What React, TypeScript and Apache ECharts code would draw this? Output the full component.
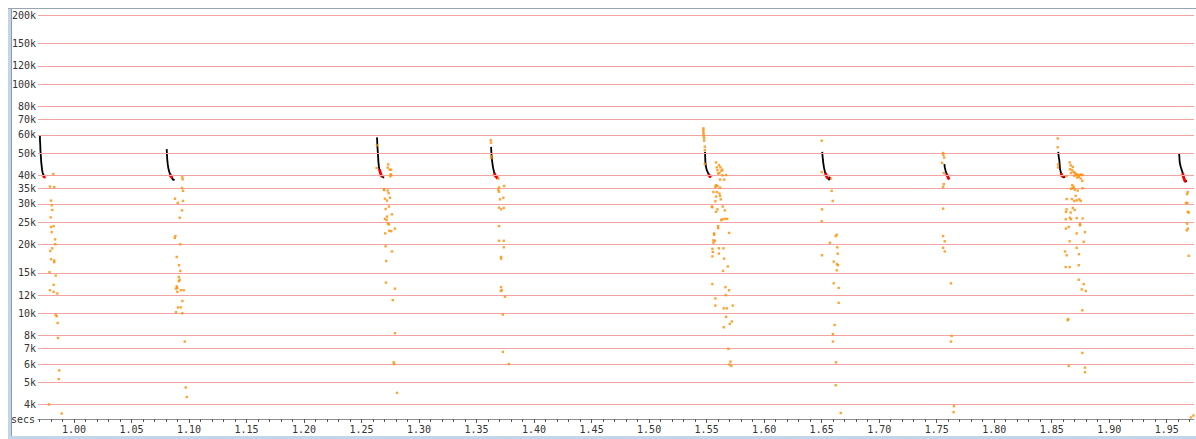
import React, { useEffect, useRef } from 'react';
import * as echarts from 'echarts';

// ---- axes ----
const xMin = 0.9687;
const xMax = 1.9737;
const yMin = 3455;
const yMax = 212600;
const xMajorTicks = [1.0, 1.05, 1.1, 1.15, 1.2, 1.25, 1.3, 1.35, 1.4, 1.45, 1.5, 1.55, 1.6, 1.65, 1.7, 1.75, 1.8, 1.85, 1.9, 1.95];
const yTickValues = [200000, 150000, 120000, 100000, 80000, 70000, 60000, 50000, 40000, 35000, 30000, 25000, 20000, 15000, 12000, 10000, 8000, 7000, 6000, 5000, 4000];
const yTickLabels = ['200k', '150k', '120k', '100k', '80k', '70k', '60k', '50k', '40k', '35k', '30k', '25k', '20k', '15k', '12k', '10k', '8k', '7k', '6k', '5k', '4k'];
const xMinorTicks: number[] = [];
for (let i = 97; i <= 197; i++) xMinorTicks.push(i / 100);

// ---- black decay curves ----
const decay1 = [[0.9704, 60000], [0.9704, 57000], [0.9707, 54000], [0.9708, 51500], [0.971, 50000], [0.9713, 47500], [0.9715, 45600], [0.9719, 43800], [0.9723, 42100], [0.9728, 40900], [0.9733, 40200], [0.9743, 39300]];
const decay2 = [[1.0806, 52000], [1.0807, 50500], [1.0809, 48500], [1.0811, 46600], [1.0815, 44700], [1.082, 43000], [1.0826, 41700], [1.0835, 40500], [1.0848, 39300], [1.0857, 38500], [1.0865, 38100], [1.0872, 38500]];
const decay3 = [[1.2634, 58500], [1.2636, 56300], [1.2637, 54100], [1.264, 51500], [1.2643, 49000], [1.2646, 46000], [1.2651, 43500], [1.2657, 42100], [1.2664, 40900], [1.2673, 39800], [1.2682, 39400], [1.269, 39200], [1.2697, 39100]];
const decay4 = [[1.3626, 53200], [1.3628, 50800], [1.3631, 48500], [1.3634, 46600], [1.3637, 45300], [1.3643, 43200], [1.3652, 41300], [1.366, 40000], [1.3673, 39300], [1.3684, 38700]];
const decay5 = [[1.5486, 50600], [1.5487, 48500], [1.5489, 45800], [1.5493, 43800], [1.5501, 42100], [1.5515, 40700], [1.5525, 39800], [1.5535, 39100]];
const decay6 = [[1.6505, 50600], [1.6507, 49000], [1.651, 47000], [1.6514, 45300], [1.652, 43200], [1.6529, 41300], [1.6544, 39400], [1.6557, 38700], [1.6566, 38100], [1.6572, 39400]];
const decay7 = [[1.7567, 44700], [1.757, 43400], [1.7576, 42100], [1.7584, 40900], [1.7597, 39400], [1.7608, 38400]];
const decay8 = [[1.8557, 50600], [1.856, 48500], [1.8566, 46600], [1.8569, 44700], [1.8572, 42700], [1.8579, 41300], [1.8587, 40000], [1.8601, 39100], [1.8616, 39400]];
const decay9 = [[1.9607, 50000], [1.961, 48000], [1.9612, 45800], [1.962, 43800], [1.9631, 42100], [1.9639, 40900], [1.9645, 39400], [1.9659, 37700], [1.9665, 37500], [1.9674, 38000]];

// ---- red tails ----
const tail1 = [[0.9733, 40100], [0.9737, 39600], [0.9743, 39300], [0.9748, 39200], [0.9753, 39400]];
const tail2 = [[1.0835, 40400], [1.0839, 39800], [1.0848, 39300], [1.0852, 38900]];
const tail3 = [[1.2656, 42500], [1.2657, 42100], [1.2664, 40900], [1.2673, 39800], [1.2682, 39400]];
const tail4 = [[1.3656, 40900], [1.366, 40000], [1.3673, 39300], [1.3684, 38700]];
const tail5 = [[1.5516, 40500], [1.5525, 39800], [1.5535, 39100], [1.5538, 39000]];
const tail6 = [[1.6533, 40900], [1.6544, 39400], [1.6557, 38700]];
const tail7 = [[1.7586, 40600], [1.7597, 39400], [1.7608, 38400]];
const tail8 = [[1.8581, 40900], [1.8587, 40000], [1.8601, 39100], [1.8603, 39000]];
const tail9 = [[1.9639, 40900], [1.9645, 39400], [1.9659, 37700], [1.9665, 37400]];

// ---- orange scattered samples ----
const scatter1 = [[0.982, 40500], [0.9791, 35700], [0.9828, 35500], [0.98, 31000], [0.9806, 29600], [0.9811, 28200], [0.9797, 26200], [0.98, 23800], [0.9823, 24000], [0.9806, 22600], [0.9835, 21000], [0.9837, 20000], [0.9811, 19200], [0.9794, 18700], [0.98, 17200], [0.9828, 17000], [0.9828, 16700], [0.9787, 15100], [0.9841, 14600], [0.9823, 13300], [0.9791, 12600], [0.9823, 12400], [0.9855, 12200], [0.9841, 9830], [0.985, 9700], [0.9858, 9070], [0.9861, 7800], [0.9872, 5630], [0.9867, 5160], [0.9783, 4000], [0.9893, 3650]];
const scatter2 = [[1.0942, 39200], [1.0945, 38400], [1.0939, 35200], [1.0948, 34200], [1.0878, 31600], [1.0902, 30300], [1.0948, 30900], [1.0939, 28100], [1.0919, 26100], [1.0881, 21700], [1.0876, 21300], [1.0924, 20000], [1.0893, 17600], [1.0913, 16200], [1.0924, 15300], [1.0911, 14400], [1.0919, 14000], [1.0911, 13800], [1.0893, 13100], [1.0898, 12900], [1.0887, 12800], [1.0898, 12400], [1.093, 12600], [1.0954, 12600], [1.0942, 11300], [1.0928, 10600], [1.0904, 10600], [1.0887, 10100], [1.0942, 10000], [1.0963, 7520], [1.0971, 4740], [1.098, 4310]];
const scatter3 = [[1.2634, 54000], [1.2631, 43000], [1.2732, 44600], [1.2727, 43200], [1.2744, 42300], [1.2756, 42300], [1.2753, 40400], [1.275, 39600], [1.2758, 40000], [1.2697, 34800], [1.2695, 34500], [1.2727, 34300], [1.2735, 33400], [1.2703, 31600], [1.2721, 31000], [1.2747, 31900], [1.2709, 28500], [1.2738, 29200], [1.2764, 27000], [1.2721, 26400], [1.2703, 25800], [1.2718, 25500], [1.2729, 24600], [1.2738, 24400], [1.279, 23400], [1.2741, 22900], [1.2758, 22800], [1.2706, 22300], [1.2709, 19600], [1.2764, 18600], [1.2714, 16900], [1.2712, 13600], [1.279, 12800], [1.2771, 11400], [1.279, 8180], [1.2779, 6110], [1.2784, 6000], [1.2808, 4490]];
const scatter4 = [[1.3623, 56900], [1.3626, 55500], [1.3628, 48500], [1.3628, 47500], [1.3689, 38700], [1.3695, 35400], [1.3689, 34500], [1.3695, 33900], [1.3739, 35900], [1.3704, 31400], [1.3733, 31900], [1.3695, 28900], [1.3713, 28400], [1.3736, 28800], [1.3695, 24000], [1.3695, 20700], [1.3736, 20700], [1.3736, 19400], [1.3713, 17600], [1.3713, 17300], [1.3713, 13000], [1.3719, 12600], [1.371, 12500], [1.3747, 11800], [1.3728, 9870], [1.3728, 6780], [1.378, 6000]];
const scatter5 = [[1.5472, 64100], [1.5472, 63000], [1.5472, 61700], [1.5473, 60500], [1.5475, 59300], [1.5478, 58000], [1.5478, 56600], [1.5484, 53300], [1.5484, 51500], [1.5484, 44800], [1.5582, 45500], [1.5608, 44300], [1.5588, 43300], [1.562, 43300], [1.5637, 42300], [1.5594, 42100], [1.5628, 41800], [1.56, 40700], [1.5611, 40900], [1.5637, 40000], [1.5669, 40100], [1.5617, 38300], [1.5652, 38300], [1.5582, 36200], [1.5576, 35600], [1.5594, 35900], [1.5617, 35300], [1.5559, 33800], [1.5588, 33800], [1.5611, 33300], [1.5617, 32500], [1.5582, 32300], [1.5623, 31400], [1.5576, 30800], [1.5545, 29200], [1.555, 29000], [1.564, 29200], [1.5594, 28400], [1.5658, 28100], [1.5582, 27700], [1.5637, 25700], [1.5626, 25500], [1.5658, 25800], [1.5678, 25800], [1.56, 24000], [1.56, 23500], [1.5695, 22400], [1.5565, 22300], [1.5565, 22000], [1.5559, 20800], [1.5571, 20700], [1.5559, 20300], [1.555, 19100], [1.5606, 19200], [1.5646, 19200], [1.5554, 18500], [1.5606, 18200], [1.555, 17700], [1.5652, 17300], [1.5684, 16000], [1.5643, 15300], [1.555, 13400], [1.5663, 13000], [1.5695, 12600], [1.5666, 12000], [1.5576, 11600], [1.5727, 10800], [1.5576, 10800], [1.5649, 10500], [1.5675, 10500], [1.5669, 9640], [1.5719, 9200], [1.5701, 8980], [1.5649, 8690], [1.5689, 6990], [1.5707, 6150], [1.5698, 5970], [1.5715, 5890]];
const scatter6 = [[1.65, 56600], [1.65, 41300], [1.6581, 38700], [1.6587, 34200], [1.6596, 30900], [1.6503, 28400], [1.65, 25200], [1.6631, 22000], [1.6622, 21700], [1.6572, 20300], [1.6636, 19400], [1.664, 18200], [1.6503, 17900], [1.6605, 16800], [1.6633, 16400], [1.6642, 16200], [1.6631, 15400], [1.6605, 13500], [1.6648, 12900], [1.6648, 11100], [1.6613, 8890], [1.6598, 8100], [1.6598, 7520], [1.6624, 6110], [1.6622, 4850], [1.6666, 3670]];
const scatter7 = [[1.7556, 50000], [1.7558, 49100], [1.7565, 47800], [1.7547, 45300], [1.7562, 40900], [1.7562, 36600], [1.7556, 35600], [1.7556, 28600], [1.7556, 21700], [1.757, 20600], [1.7556, 19300], [1.757, 18600], [1.7624, 13500], [1.763, 7960], [1.7624, 7520], [1.765, 3930], [1.7647, 3700]];
const scatter8 = [[1.8552, 57900], [1.8552, 53000], [1.8555, 44600], [1.8555, 43300], [1.8656, 45500], [1.8665, 44200], [1.8683, 43500], [1.8659, 42500], [1.8676, 42100], [1.8691, 41400], [1.8668, 40900], [1.8702, 40900], [1.8711, 40400], [1.8722, 40300], [1.874, 40000], [1.8754, 40300], [1.8769, 40100], [1.8696, 39800], [1.872, 39100], [1.8735, 39300], [1.8752, 38700], [1.8766, 37800], [1.8627, 39600], [1.8679, 36200], [1.8691, 35600], [1.8668, 34900], [1.8702, 34600], [1.8726, 34300], [1.8769, 35100], [1.8683, 35100], [1.8709, 32500], [1.863, 31500], [1.8676, 31500], [1.8696, 30900], [1.8717, 31100], [1.874, 31400], [1.8752, 30900], [1.8683, 28800], [1.87, 28200], [1.863, 28400], [1.8624, 27700], [1.8665, 27500], [1.8622, 25700], [1.8659, 26100], [1.8717, 26000], [1.8769, 25900], [1.8668, 25700], [1.8746, 24500], [1.8746, 24200], [1.8624, 23400], [1.8648, 23800], [1.8789, 22600], [1.8717, 22300], [1.8656, 20600], [1.8778, 20500], [1.8717, 19300], [1.8616, 18600], [1.863, 17900], [1.8737, 18100], [1.8622, 15900], [1.8656, 15900], [1.8735, 16200], [1.8735, 14000], [1.8778, 13400], [1.8761, 12700], [1.8796, 12500], [1.8766, 10300], [1.8644, 9430], [1.8639, 9320], [1.8766, 6710], [1.8648, 5890], [1.8789, 5790], [1.8789, 5530]];
const scatter9 = [[1.9683, 33800], [1.9677, 33100], [1.9679, 30300], [1.9668, 30300], [1.9683, 27700], [1.9691, 27500], [1.9677, 24600], [1.9683, 23400], [1.9674, 23000], [1.9691, 17800], [1.9732, 3580], [1.9711, 3510]];

const decays = [decay1, decay2, decay3, decay4, decay5, decay6, decay7, decay8, decay9];
const tails = [tail1, tail2, tail3, tail4, tail5, tail6, tail7, tail8, tail9];
const scatters = [scatter1, scatter2, scatter3, scatter4, scatter5, scatter6, scatter7, scatter8, scatter9];

const FONT = 'DejaVu Sans Mono';
const TEXT = '#333333';

function buildOption() {
  const series: any[] = [];
  series.push({
    type: 'scatter',
    data: [],
    z: 1,
    silent: true,
    markLine: {
      silent: true,
      symbol: ['none', 'none'],
      animation: false,
      lineStyle: { color: '#f4a3a3', width: 1, type: 'solid' },
      label: {
        show: true,
        position: 'start',
        distance: 2,
        color: TEXT,
        fontFamily: FONT,
        fontSize: 10,
        formatter: (p: any) => p.name,
      },
      emphasis: { disabled: true },
      data: yTickValues.map((v, i) => ({ yAxis: v, name: yTickLabels[i] })),
    },
  });
  decays.forEach((d) => {
    series.push({
      type: 'line',
      data: d,
      symbol: 'none',
      z: 3,
      silent: true,
      lineStyle: { color: '#000000', width: 1.8 },
    });
  });
  tails.forEach((d) => {
    series.push({
      type: 'line',
      data: d,
      symbol: 'none',
      z: 4,
      silent: true,
      lineStyle: { color: '#ff0000', width: 2.8 },
    });
  });
  series.push({
    type: 'scatter',
    data: scatters.flat(),
    symbol: 'rect',
    symbolSize: 2.4,
    z: 5,
    silent: true,
    itemStyle: { color: '#ff8c00' },
  });

  return {
    animation: false,
    backgroundColor: '#ffffff',
    grid: { left: 38, right: 2, top: 9, bottom: 20, containLabel: false, outerBoundsMode: 'none' },
    xAxis: [
      {
        type: 'value',
        min: xMin,
        max: xMax,
        name: 'secs',
        nameLocation: 'start',
        nameGap: 3,
        nameTextStyle: { color: TEXT, fontFamily: FONT, fontSize: 10, verticalAlign: 'middle' },
        axisLine: { show: true, lineStyle: { color: '#8c8c8c', width: 1 } },
        axisTick: { show: true, length: 4, lineStyle: { color: '#555555' }, customValues: xMajorTicks },
        axisLabel: {
          show: true,
          margin: 5,
          color: TEXT,
          fontFamily: FONT,
          fontSize: 10,
          customValues: xMajorTicks,
          formatter: (v: number) => v.toFixed(2),
        },
        splitLine: { show: false },
      },
      {
        type: 'value',
        min: xMin,
        max: xMax,
        position: 'bottom',
        axisLine: { show: false },
        axisTick: { show: true, length: 3, lineStyle: { color: '#555555' }, customValues: xMinorTicks },
        axisLabel: { show: false },
        splitLine: { show: false },
      },
    ],
    yAxis: {
      type: 'log',
      logBase: 10,
      min: yMin,
      max: yMax,
      axisLine: { show: false },
      axisTick: { show: false },
      axisLabel: { show: false },
      splitLine: { show: false },
    },
    graphic: [
      { type: 'rect', shape: { x: 8, y: 8, width: 3.5, height: 431 }, style: { fill: '#c3d5e8' }, silent: true },
      { type: 'rect', shape: { x: 8, y: 436, width: 1188, height: 3 }, style: { fill: '#c3d5e8' }, silent: true },
      { type: 'line', shape: { x1: 11.5, y1: 8, x2: 11.5, y2: 436 }, style: { stroke: '#8e9bab', lineWidth: 1 }, silent: true },
      { type: 'line', shape: { x1: 8, y1: 8.5, x2: 1196, y2: 8.5 }, style: { stroke: '#9aa5b1', lineWidth: 1 }, silent: true },
    ],
    series,
  };
}

export default function App() {
  const ref = useRef<HTMLDivElement>(null);
  useEffect(() => {
    if (!ref.current) return;
    const chart = echarts.init(ref.current, null, { renderer: 'svg' });
    chart.setOption(buildOption() as any);
    return () => chart.dispose();
  }, []);
  return (
    <div
      ref={ref}
      style={{ position: 'absolute', left: 0, top: 0, width: 1196, height: 439, background: '#ffffff' }}
    />
  );
}
